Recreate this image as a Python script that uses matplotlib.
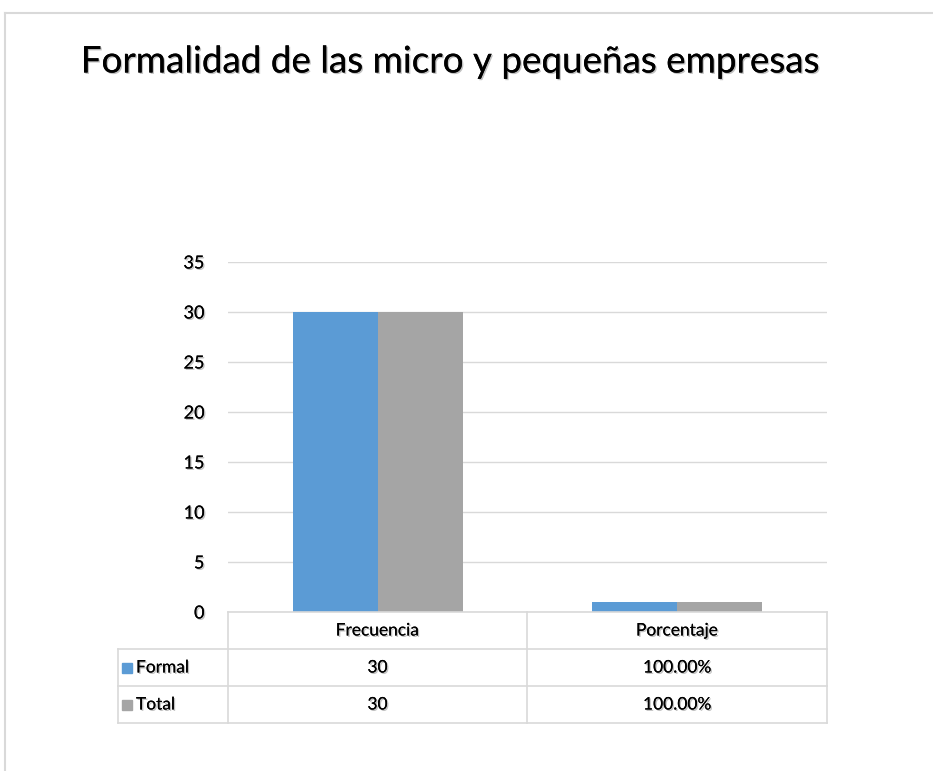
import matplotlib
matplotlib.use("Agg")
import matplotlib.pyplot as plt
import matplotlib.patheffects as pe
from matplotlib.lines import Line2D
from matplotlib.patches import Rectangle

# data
categories = ["Frecuencia", "Porcentaje"]
series_names = ["Formal", "Total"]
formal_vals = [30, 1.0]
total_vals = [30, 1.0]
table_labels = [["30", "100.00%"], ["30", "100.00%"]]
yticks = [0, 5, 10, 15, 20, 25, 30, 35]

colors = ["#5B9BD5", "#A5A5A5"]
grid_c = "#D9D9D9"
txt_c = "#000000"

plt.rcParams['font.family'] = ['Lato', 'DejaVu Sans']

W, H = 933, 771
fig = plt.figure(figsize=(W / 100, H / 100), dpi=100)
fig.patch.set_facecolor("white")

shadow = [pe.withSimplePatchShadow(offset=(1, -1), shadow_rgbFace="#999999", alpha=0.6), pe.Normal()]


def fx(px):
    return px / W


def fy(py):
    return 1 - py / H


# outer frame (partially visible)
fig.add_artist(Line2D([fx(5), 1], [fy(13), fy(13)], color=grid_c, lw=1.5))
fig.add_artist(Line2D([fx(5), fx(5)], [fy(13), 0], color=grid_c, lw=1.5))

fig.text(fx(450), fy(62), "Formalidad de las micro y pequeñas empresas",
         ha="center", va="center", fontsize=26.5, color=txt_c, path_effects=shadow)

# plot area
x0, x1, ytop, ybot = 228, 827, 262, 612
ax = fig.add_axes([fx(x0), fy(ybot), fx(x1 - x0), (ybot - ytop) / H])
ax.set_xlim(-0.5, len(categories) - 0.5)
ax.set_ylim(0, 35)
ax.set_yticks(yticks)
ax.yaxis.grid(True, color=grid_c, lw=1)
ax.set_axisbelow(True)
for s in ax.spines.values():
    s.set_visible(False)
ax.tick_params(axis="y", length=0, pad=17, labelsize=13)
ax.set_xticks([])
for lab in ax.get_yticklabels():
    lab.set_path_effects(shadow)

bw = 85 / 300
xs = list(range(len(categories)))
ax.bar([x - bw / 2 for x in xs], formal_vals, width=bw, color=colors[0], zorder=3)
ax.bar([x + bw / 2 for x in xs], total_vals, width=bw, color=colors[1], zorder=3)

# data table
cols = [118, 228, 527, 827]
rows = [612, 649, 686, 723]
for i, y in enumerate(rows):
    xl = cols[1] if i == 0 else cols[0]
    fig.add_artist(Line2D([fx(xl), fx(cols[-1])], [fy(y), fy(y)], color=grid_c, lw=1.2))
for j, x in enumerate(cols):
    yt = rows[1] if j == 0 else rows[0]
    fig.add_artist(Line2D([fx(x), fx(x)], [fy(yt), fy(rows[-1])], color=grid_c, lw=1.2))

for j, cat in enumerate(categories):
    cx = (cols[j + 1] + cols[j + 2]) / 2
    fig.text(fx(cx), fy((rows[0] + rows[1]) / 2), cat, ha="center", va="center",
             fontsize=12.5, color=txt_c, path_effects=shadow)

for i, name in enumerate(series_names):
    cy = (rows[i + 1] + rows[i + 2]) / 2
    fig.add_artist(Rectangle((fx(122), fy(cy + 5)), fx(10), 10 / H, color=colors[i],
                             transform=fig.transFigure))
    fig.text(fx(136), fy(cy), name, ha="left", va="center", fontsize=12.5,
             color=txt_c, path_effects=shadow)
    for j in range(len(categories)):
        cx = (cols[j + 1] + cols[j + 2]) / 2
        fig.text(fx(cx), fy(cy), table_labels[i][j], ha="center", va="center",
                 fontsize=12.5, color=txt_c, path_effects=shadow)

fig.savefig("out.png", dpi=100)
